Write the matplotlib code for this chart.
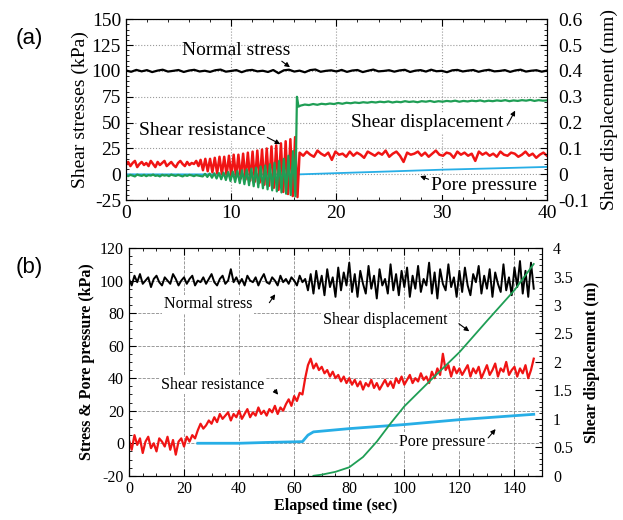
import numpy as np
import matplotlib
matplotlib.use("Agg")
import matplotlib.pyplot as plt
from matplotlib.ticker import MultipleLocator, FuncFormatter

plt.rcParams['font.family'] = ['Liberation Serif', 'DejaVu Serif']
plt.rcParams['axes.unicode_minus'] = False
plt.rcParams['xtick.direction'] = 'in'
plt.rcParams['ytick.direction'] = 'in'

RED = '#f01414'
GREEN = '#1f9e55'
CYAN = '#27aee6'

# ---------------- panel (a) data: 0-40 s ----------------
a_normal = [100.5, 99.2, 101.0, 99.6, 100.8, 98.9, 100.3, 101.2, 99.4, 100.1,
            100.9, 99.0, 100.4, 101.1, 99.5, 100.2, 99.1, 100.7, 101.3, 99.3,
            100.0, 100.8, 98.8, 100.5, 101.0, 99.6, 100.2, 99.0, 100.9, 97.8,
            100.6, 101.2, 99.4, 100.3, 98.7, 100.8, 101.4, 99.2, 100.1, 100.6,
            99.5, 101.0, 99.1, 100.4, 100.9, 98.9, 100.2, 101.3, 99.6, 100.0,
            100.7, 99.3, 100.5, 101.1, 99.0, 100.3, 100.8, 99.4, 101.2, 99.7,
            100.1, 98.8, 100.6, 101.0, 99.5, 100.3, 100.9, 99.2, 100.4, 101.1,
            99.6, 100.0, 100.8, 99.1, 100.5, 101.2, 99.4, 100.2, 100.7, 99.3, 100.4]

# shear resistance before cyclic loading (0-7 s)
a_res_pre = [9, 12, 8, 11, 13, 7, 10, 12, 9, 11, 8, 13, 10, 7, 12, 9, 11,
             13, 8, 10, 12, 9, 7, 11, 13, 10, 8, 12, 9, 11, 10, 13, 8]
# cyclic part (7-16.3 s): peaks and troughs
a_res_peaks = [14, 15, 15, 16, 17, 17, 18, 19, 19, 20, 21, 22, 23, 24, 25,
               27, 28, 30, 32, 34, 36]
a_res_troughs = [4, 3, 2, 1, 0, -1, -2, -3, -4, -5, -6, -7, -8, -10, -11,
                 -13, -15, -17, -19, -21, -22]
# after failure (16.5-40 s)
a_res_post = [21, 18, 22, 19, 17, 23, 20, 18, 21, 14, 22, 19, 20, 17, 22, 18,
              21, 19, 16, 22, 20, 18, 21, 19, 23, 17, 20, 22, 18, 12, 21, 19,
              20, 22, 18, 21, 17, 20, 23, 19, 18, 21, 20, 16, 22, 19, 21, 18,
              20, 13, 22, 19, 21, 18, 20, 17, 22, 19, 18, 21, 20, 17, 19, 22,
              18, 20, 16, 19, 21, 18]

# shear displacement (mm)
a_disp_pre = [-0.003, -0.007, -0.002, -0.005, -0.008, -0.001, -0.004, -0.006,
              -0.002, -0.007, -0.003, -0.005, -0.001, -0.006, -0.004, -0.008,
              -0.002, -0.005, -0.003, -0.007, -0.001, -0.004, -0.006, -0.002,
              -0.005, -0.008, -0.003, -0.006, -0.002, -0.004, -0.007, -0.003, -0.005]
a_disp_troughs = [-0.008, -0.010, -0.013, -0.016, -0.019, -0.022, -0.026, -0.030,
                  -0.034, -0.038, -0.042, -0.046, -0.050, -0.054, -0.058, -0.062,
                  -0.066, -0.070, -0.075, -0.080, -0.085]
a_disp_peaks = [0.002, 0.003, 0.004, 0.005, 0.007, 0.009, 0.011, 0.013, 0.016,
                0.019, 0.022, 0.026, 0.030, 0.034, 0.039, 0.045, 0.052, 0.060,
                0.072, 0.090]
a_disp_jump_t = [16.25, 16.4]
a_disp_jump_v = [0.300, 0.262]
a_disp_post = [0.266, 0.270, 0.268, 0.272, 0.269, 0.273, 0.271, 0.274, 0.272, 0.276,
               0.273, 0.277, 0.275, 0.278, 0.276, 0.279, 0.277, 0.280, 0.278, 0.281,
               0.279, 0.282, 0.278, 0.281, 0.279, 0.283, 0.280, 0.282, 0.279, 0.283,
               0.281, 0.284, 0.280, 0.283, 0.281, 0.284, 0.282, 0.285, 0.281, 0.284,
               0.282, 0.285, 0.283, 0.286, 0.282, 0.285, 0.283, 0.286, 0.284, 0.287,
               0.283, 0.286, 0.284, 0.287, 0.285, 0.288, 0.284, 0.287, 0.285, 0.286]

a_pore_t = [0, 16.5, 19.5, 25, 30, 35, 40]
a_pore_v = [0, 0, 1.0, 2.8, 4.5, 5.8, 7.2]

# ---------------- panel (b) data: 0-147 s ----------------
b_normal = [101, 97, 103, 99, 104, 98, 100, 102, 96, 101,
            103, 99, 97, 102, 100, 98, 104, 101, 97, 100,
            102, 98, 101, 103, 97, 100, 99, 102, 98, 101,
            104, 99, 97, 101, 103, 98, 100, 107, 99, 102,
            98, 101, 97, 103, 100, 99, 102, 97, 101, 104,
            99, 98, 102, 100, 97, 103, 99, 101, 98, 102,
            100, 97, 103, 99, 101, 94, 104, 92, 106, 95,
            103, 91, 107, 96, 102, 90, 108, 94, 105, 97,
            111, 93, 104, 90, 106, 98, 92, 109, 95, 103,
            89, 107, 97, 101, 92, 110, 94, 104, 91, 106,
            96, 108, 90, 103, 95, 109, 93, 101, 97, 111,
            92, 105, 89, 107, 98, 94, 110, 96, 102, 90,
            106, 93, 108, 97, 91, 104, 99, 109, 92, 103,
            95, 107, 90, 105, 98, 93, 110, 94, 102, 91,
            108, 96, 112, 92, 106, 90, 111, 95]
b_res = [2, -4, 5, -1, 3, -6, 1, 4, -3, 0,
         -5, 3, 1, -2, 4, -4, 2, -7, 1, 3,
         -2, 4, 1, 5, 3, 8, 12, 9, 11, 14,
         12, 16, 13, 18, 15, 17, 19, 14, 18, 16,
         20, 15, 18, 21, 16, 19, 17, 22, 18, 20,
         17, 21, 19, 23, 18, 22, 20, 24, 27, 23,
         29, 26, 31, 30, 40, 48, 52, 46, 49, 45,
         47, 43, 45, 41, 44, 40, 42, 38, 41, 37,
         40, 36, 39, 35, 38, 33, 37, 35, 39, 34,
         37, 33, 36, 39, 35, 38, 34, 40, 37, 41,
         36, 39, 42, 37, 40, 38, 43, 39, 41, 37,
         44, 40, 46, 42, 55, 45, 48, 41, 47, 43,
         46, 42, 45, 48, 41, 46, 43, 47, 40, 44,
         48, 42, 45, 49, 41, 46, 44, 50, 42, 45,
         47, 41, 46, 43, 48, 40, 45, 52]
b_pore_t = [25, 40, 50, 63, 65, 67, 80, 100, 120, 147]
b_pore_v = [0, 0, 0.5, 1.0, 5.0, 7.0, 9.0, 11.5, 14.5, 17.8]
b_disp_t = [67, 70, 75, 80, 85, 90, 95, 100, 110, 120, 130, 140, 147]
b_disp_v = [0, 0.02, 0.07, 0.15, 0.33, 0.60, 0.92, 1.22, 1.70, 2.17, 2.72, 3.26, 3.72]


def fmt(v, _):
    return f'{v:g}'


fig = plt.figure(figsize=(6.23, 5.2), dpi=100)
arrow = dict(arrowstyle='-|>', color='black', lw=0.8, mutation_scale=7)
box = dict(fc='white', ec='none', pad=1)

# ---------------- panel (a) ----------------
FA = 14
ax1 = fig.add_axes([0.202, 0.615, 0.676, 0.348])
ax1r = ax1.twinx()

t_norm = np.linspace(0, 40, len(a_normal))
ax1.plot(t_norm, a_normal, color='black', lw=1.6)

res_osc = np.empty(len(a_res_peaks) + len(a_res_troughs))
res_osc[0::2] = a_res_peaks
res_osc[1::2] = a_res_troughs
t_res = np.concatenate([np.linspace(0, 6.9, len(a_res_pre)),
                        np.linspace(7.1, 16.3, len(res_osc)),
                        np.linspace(16.5, 40, len(a_res_post))])
v_res = np.concatenate([a_res_pre, res_osc, a_res_post])
ax1.plot(a_pore_t, a_pore_v, color=CYAN, lw=1.3)
ax1.plot(t_res, v_res, color=RED, lw=1.8)

disp_osc = np.empty(len(a_disp_troughs) + len(a_disp_peaks))
disp_osc[0::2] = a_disp_troughs
disp_osc[1::2] = a_disp_peaks
t_disp = np.concatenate([np.linspace(0, 6.9, len(a_disp_pre)),
                         np.linspace(7.3, 16.1, len(disp_osc)),
                         a_disp_jump_t,
                         np.linspace(16.6, 40, len(a_disp_post))])
v_disp = np.concatenate([a_disp_pre, disp_osc, a_disp_jump_v, a_disp_post])
ax1r.plot(t_disp, v_disp, color=GREEN, lw=1.6)

ax1.set_xlim(0, 40)
ax1.set_ylim(-25, 150)
ax1r.set_ylim(-0.1, 0.6)
ax1.xaxis.set_major_locator(MultipleLocator(10))
ax1.xaxis.set_minor_locator(MultipleLocator(2))
ax1.yaxis.set_major_locator(MultipleLocator(25))
ax1.yaxis.set_minor_locator(MultipleLocator(5))
ax1r.yaxis.set_major_locator(MultipleLocator(0.1))
ax1r.yaxis.set_minor_locator(MultipleLocator(0.02))
ax1r.yaxis.set_major_formatter(FuncFormatter(fmt))
ax1.grid(True, linestyle=':', color='#9a9a9a', lw=0.8)
ax1.tick_params(which='both', top=True, labelsize=FA)
ax1.tick_params(which='major', length=5)
ax1.tick_params(which='minor', length=2.5)
ax1r.tick_params(which='major', length=5, labelsize=FA, pad=8)
ax1r.tick_params(which='minor', length=2.5)
ax1.set_ylabel('Shear stresses (kPa)', fontsize=FA, labelpad=2)
ax1r.set_ylabel('Shear displacement (mm)', fontsize=FA, labelpad=8)

ax1.text(10.5, 120, 'Normal stress', fontsize=FA, ha='center', va='center')
ax1.annotate('', xy=(15.8, 102), xytext=(14.6, 111), arrowprops=arrow)
ax1.text(7.3, 42, 'Shear resistance', fontsize=FA, ha='center', va='center', bbox=box)
ax1.annotate('', xy=(14.9, 28), xytext=(13.2, 37), arrowprops=arrow)
ax1.text(28.6, 50, 'Shear displacement', fontsize=FA, ha='center', va='center', bbox=box)
ax1.annotate('', xy=(37.1, 64), xytext=(36.1, 45), arrowprops=arrow)
ax1.text(34.0, -10.5, 'Pore pressure', fontsize=FA, ha='center', va='center', bbox=box)
ax1.annotate('', xy=(27.7, -0.8), xytext=(29.0, -5.7), arrowprops=arrow)

# ---------------- panel (b) ----------------
FB = 11.5
ax2 = fig.add_axes([0.207, 0.085, 0.663, 0.438])
ax2r = ax2.twinx()

t_b = np.arange(len(b_normal))
ax2.plot(t_b, b_normal, color='black', lw=1.4)
ax2.plot(b_pore_t, b_pore_v, color=CYAN, lw=2.0)
ax2.plot(np.arange(len(b_res)), b_res, color=RED, lw=1.6)
ax2r.plot(b_disp_t, b_disp_v, color=GREEN, lw=1.3)

ax2.set_xlim(0, 150)
ax2.set_ylim(-20, 120)
ax2r.set_ylim(0, 4)
ax2.xaxis.set_major_locator(MultipleLocator(20))
ax2.xaxis.set_minor_locator(MultipleLocator(5))
ax2.yaxis.set_major_locator(MultipleLocator(20))
ax2.yaxis.set_minor_locator(MultipleLocator(5))
ax2r.yaxis.set_major_locator(MultipleLocator(0.5))
ax2r.yaxis.set_minor_locator(MultipleLocator(0.1))
ax2r.yaxis.set_major_formatter(FuncFormatter(fmt))
ax2.grid(True, linestyle='--', color='#8a8a8a', lw=0.6)
ax2.tick_params(which='both', top=True, labelsize=FB)
ax2.tick_params(which='major', length=5)
ax2.tick_params(which='minor', length=2.5)
ax2r.tick_params(which='major', length=5, labelsize=FB, pad=8)
ax2r.tick_params(which='minor', length=2.5)
ax2.set_ylabel('Stress & Pore pressure (kPa)', fontsize=FB, fontweight='bold')
ax2r.set_ylabel('Shear displacement (m)', fontsize=FB, fontweight='bold', labelpad=8)
ax2.set_xlabel('Elapsed time (sec)', fontsize=FB, fontweight='bold', labelpad=1)

ax2.text(28.7, 85.5, 'Normal stress', fontsize=FB, ha='center', va='center', bbox=box)
ax2.annotate('', xy=(53.7, 93), xytext=(50.4, 85), arrowprops=arrow)
ax2.text(30.5, 36, 'Shear resistance', fontsize=FB, ha='center', va='center', bbox=box)
ax2.annotate('', xy=(54.8, 28.5), xytext=(52.2, 34), arrowprops=arrow)
ax2.text(93, 76, 'Shear displacement', fontsize=FB, ha='center', va='center', bbox=box)
ax2.annotate('', xy=(124.4, 67.8), xytext=(119, 74.5), arrowprops=arrow)
ax2.text(113.9, 1, 'Pore pressure', fontsize=FB, ha='center', va='center', bbox=box)
ax2.annotate('', xy=(133.8, 10), xytext=(129.8, 2), arrowprops=arrow)

fig.text(0.025, 0.915, '(a)', fontsize=16, family='Liberation Sans')
fig.text(0.025, 0.475, '(b)', fontsize=16, family='Liberation Sans')

fig.savefig('out.png', dpi=100)
